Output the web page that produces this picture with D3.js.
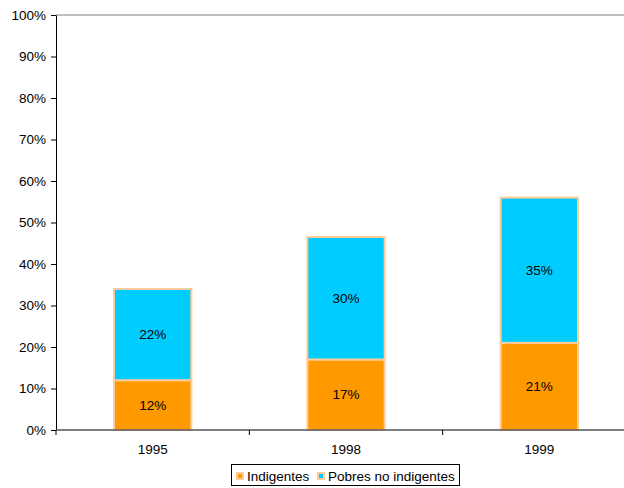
<!DOCTYPE html>
<html>
<head>
<meta charset="utf-8">
<script src="https://cdn.jsdelivr.net/npm/d3@7"></script>
<style>
  body { margin: 0; background: white; }
  svg { display: block; font-family: "Liberation Sans", Arial, sans-serif; }
</style>
</head>
<body>
<div id="chart"></div>
<script>
// data
var years = ["1995", "1998", "1999"];
var indigentes = [12.0, 17.0, 21.0];
var pobresNoIndigentes = [22.0, 29.5, 35.0];
var seriesNames = ["Indigentes", "Pobres no indigentes"];
var yTicks = [0, 10, 20, 30, 40, 50, 60, 70, 80, 90, 100];

var colors = ["#FF9900", "#00CCFF"];
var edge = "#FFCC99";
var fontSize = "13.5px";

var margin = { top: 15, right: -12, bottom: 58, left: 56 };
var W = 624, H = 488;
var width = W - margin.left - margin.right;
var height = H - margin.top - margin.bottom;

var svg = d3.select("#chart")
  .append("svg")
  .attr("width", W)
  .attr("height", H)
  .append("g")
  .attr("transform", "translate(" + margin.left + "," + margin.top + ")");

var x = d3.scaleBand()
  .domain(years)
  .range([0, width])
  .paddingInner(0.6)
  .paddingOuter(0.3);

var xBand = d3.scaleBand().domain(years).range([0, width]);

var y = d3.scaleLinear()
  .domain([0, 100])
  .range([height, 0]);

// top border of plot
svg.append("line")
  .attr("x1", 0).attr("x2", width)
  .attr("y1", 0).attr("y2", 0)
  .attr("stroke", "#aaaaaa")
  .attr("stroke-width", 1.5);

var rows = years.map(function (yr, i) {
  return { year: yr, a: indigentes[i], b: pobresNoIndigentes[i] };
});

var stacked = d3.stack().keys(["a", "b"])(rows);

var layers = svg.selectAll("g.layer")
  .data(stacked)
  .enter().append("g")
  .attr("class", "layer")
  .attr("fill", function (d, i) { return colors[i]; });

layers.selectAll("rect")
  .data(function (d) { return d; })
  .enter().append("rect")
  .attr("x", function (d) { return x(d.data.year); })
  .attr("width", x.bandwidth())
  .attr("y", function (d) { return y(d[1]); })
  .attr("height", function (d) { return y(d[0]) - y(d[1]); })
  .attr("stroke", edge)
  .attr("stroke-width", 2);

layers.selectAll("text")
  .data(function (d) { return d; })
  .enter().append("text")
  .attr("x", function (d) { return x(d.data.year) + x.bandwidth() / 2; })
  .attr("y", function (d) { return (y(d[0]) + y(d[1])) / 2; })
  .attr("dy", "0.35em")
  .attr("text-anchor", "middle")
  .attr("fill", "#000")
  .style("font-size", fontSize)
  .text(function (d) { return d3.format(".0f")(d[1] - d[0]) + "%"; });

// y axis
var yAxis = svg.append("g")
  .call(d3.axisLeft(y).tickValues(yTicks).tickSize(5).tickSizeOuter(0)
    .tickFormat(function (d) { return d + "%"; }));
yAxis.select(".domain").attr("stroke", "#000");
yAxis.selectAll(".tick line").attr("stroke", "#000");
yAxis.selectAll("text")
  .attr("x", -10)
  .style("font-size", fontSize)
  .style("font-family", "Liberation Sans, Arial, sans-serif")
  .attr("fill", "#000");

// x axis
var xAxis = svg.append("g")
  .attr("transform", "translate(0," + height + ")");
xAxis.append("line")
  .attr("x1", 0).attr("x2", width)
  .attr("stroke", "#555")
  .attr("stroke-width", 1.5);
xAxis.selectAll("line.sep")
  .data(years)
  .enter().append("line")
  .attr("class", "sep")
  .attr("x1", function (d) { return xBand(d); })
  .attr("x2", function (d) { return xBand(d); })
  .attr("y1", 0).attr("y2", 5)
  .attr("stroke", "#000");
xAxis.selectAll("text")
  .data(years)
  .enter().append("text")
  .attr("x", function (d) { return xBand(d) + xBand.bandwidth() / 2; })
  .attr("y", 19)
  .attr("dy", "0.35em")
  .attr("text-anchor", "middle")
  .style("font-size", fontSize)
  .text(function (d) { return d; });

// legend
var legend = d3.select("svg").append("g")
  .attr("transform", "translate(231.5,464.5)");
legend.append("rect")
  .attr("width", 228).attr("height", 21)
  .attr("fill", "white")
  .attr("stroke", "#000");
var item = legend.selectAll("g.item")
  .data(seriesNames)
  .enter().append("g")
  .attr("class", "item")
  .attr("transform", function (d, i) { return "translate(" + [5.5, 86.5][i] + ",0)"; });
item.append("rect")
  .attr("x", 0).attr("y", 8.5)
  .attr("width", 6).attr("height", 6)
  .attr("fill", function (d, i) { return colors[i]; })
  .attr("stroke", edge)
  .attr("stroke-width", 2);
item.append("text")
  .attr("x", 10).attr("y", 11.5)
  .attr("dy", "0.35em")
  .style("font-size", fontSize)
  .text(function (d) { return d; });
</script>
</body>
</html>
